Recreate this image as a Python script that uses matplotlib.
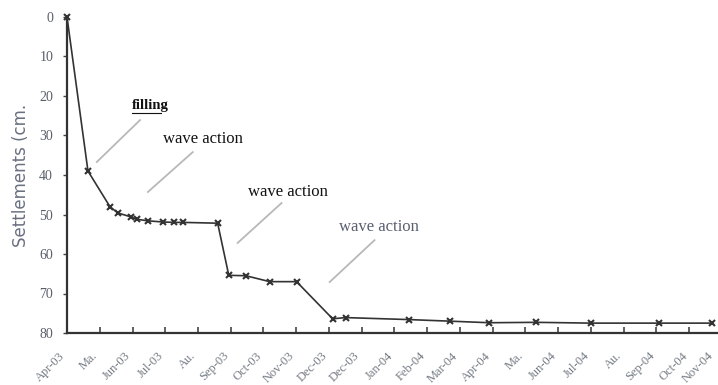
import matplotlib
matplotlib.use("Agg")
import matplotlib.pyplot as plt
from matplotlib.transforms import ScaledTranslation, blended_transform_factory

# Category (month) labels along the x axis
month_labels = ["Apr-03", "Ma.", "Jun-03", "Jul-03", "Au.", "Sep-03", "Oct-03",
                "Nov-03", "Dec-03", "Dec-03", "Jan-04", "Feb-04", "Mar-04",
                "Apr-04", "Ma.", "Jun-04", "Jul-04", "Au.", "Sep-04", "Oct-04", "Nov-04"]

# Measurement times (in month-tick units) and settlements (cm)
t_months = [0.0, 0.64, 1.31, 1.55, 1.95, 2.13, 2.47, 2.93, 3.26, 3.54, 4.60,
            4.94, 5.46, 6.19, 7.01, 8.11, 8.51, 10.43, 11.68, 12.90, 14.33,
            16.0, 18.08, 19.70]
settlement_cm = [0.0, 39.0, 48.0, 49.6, 50.6, 51.2, 51.6, 51.9, 52.0, 52.0, 52.2,
                 65.4, 65.5, 67.0, 67.0, 76.4, 76.1, 76.6, 77.0, 77.4, 77.3,
                 77.5, 77.5, 77.5]

y_ticks = [0, 10, 20, 30, 40, 50, 60, 70, 80]

serif = ["Liberation Serif", "DejaVu Serif"]

fig = plt.figure(figsize=(7.18, 3.85), dpi=100)
W, H = 718, 385
x0, x1 = 67, 722
y0, y1 = 17, 333
ax = fig.add_axes([x0 / W, (H - y1) / H, (x1 - x0) / W, (y1 - y0) / H])

ax.plot(t_months, settlement_cm, color="#333333", lw=1.2, marker="x",
        ms=4, mew=1.5, clip_on=False, zorder=3)

ax.set_xlim(0, len(month_labels) - 1)
ax.set_ylim(80, 0)

ax.set_xticks(range(len(month_labels)))
ax.set_xticklabels([])
base = blended_transform_factory(ax.transData, ax.transAxes)
n = len(month_labels)
for i, lab in enumerate(month_labels):
    dx = -8 if i < n - 1 else -15
    trans = base + ScaledTranslation(dx / 100, -17 / 100, fig.dpi_scale_trans)
    ax.text(i, 0, lab, transform=trans, rotation=45, ha="right", va="top",
            rotation_mode="anchor", family=serif, fontsize=9,
            color="#747b84", clip_on=False)

ax.set_yticks(y_ticks)
ax.set_yticklabels([str(v) for v in y_ticks], family=serif, fontsize=10,
                   color="#5a5f6a")

ax.tick_params(axis="x", direction="in", length=4, width=1.2, color="#444444")
ax.tick_params(axis="y", direction="out", length=3, width=1.0, color="#444444", pad=7)

for side in ["top", "right"]:
    ax.spines[side].set_visible(False)
for side in ["left", "bottom"]:
    ax.spines[side].set_linewidth(1.6)
    ax.spines[side].set_color("#333333")

ax.set_ylabel("Settlements (cm.", color="#6a7080", fontsize=12,
              family=["DejaVu Sans"], labelpad=7)

# Annotations
notes = [
    ("filling", 1.98, 22.5, (0.91, 36.7), (2.23, 26.1), "#111111", 10.5, True),
    ("wave action", 2.93, 30.9, (2.47, 44.3), (3.84, 34.2), "#111111", 12, False),
    ("wave action", 5.52, 44.3, (5.21, 57.2), (6.55, 47.1), "#111111", 12, False),
    ("wave action", 8.32, 53.2, (8.02, 67.1), (9.39, 56.5), "#5a5f70", 12, False),
]
for txt, tx, ty, p0, p1, col, fs, bold in notes:
    ax.text(tx, ty, txt, family=serif, fontsize=fs, color=col,
            ha="left", va="center",
            fontweight="bold" if bold else "normal")
    ax.plot([p0[0], p1[0]], [p0[1], p1[1]], color="#b8b8b8", lw=1.3, zorder=1)

# underline for "filling"
ax.plot([1.98, 2.88], [24.2, 24.2], color="#111111", lw=0.8)

fig.savefig("out.png", dpi=100)
